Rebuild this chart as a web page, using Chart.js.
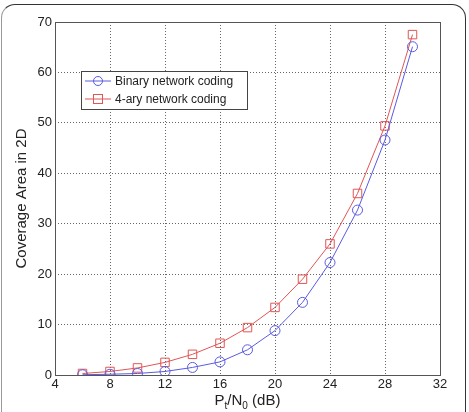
<!DOCTYPE html>
<html>
<head>
<meta charset="utf-8">
<script src="https://cdn.jsdelivr.net/npm/chart.js@4.4.0/dist/chart.umd.min.js"></script>
<style>
  html, body { margin: 0; padding: 0; background: #fff; }
  #wrap { position: relative; width: 469px; height: 412px; overflow: hidden; }
  #frame { position: absolute; left: 1px; top: 4px; width: 463px; height: 460px;
           border: 1.5px solid #333; border-left-color: #999; border-radius: 14px; pointer-events: none; }
  canvas { position: absolute; left: 0; top: 0; }
</style>
</head>
<body>
<div id="wrap">
  <canvas id="chart" width="469" height="412"></canvas>
  <div id="frame"></div>
</div>
<script>
// values
const snr = [6, 8, 10, 12, 14, 16, 18, 20, 22, 24, 26, 28, 30];
const binary = [0.05, 0.15, 0.3, 0.7, 1.5, 2.6, 5.0, 8.8, 14.4, 22.3, 32.7, 46.6, 65.1];
const quaternary = [0.3, 0.7, 1.4, 2.5, 4.1, 6.3, 9.4, 13.4, 19.0, 26.0, 36.0, 49.4, 67.5];
const seriesNames = ['Binary network coding', '4-ary network coding'];
const xTicks = [4, 8, 12, 16, 20, 24, 28, 32];
const yTicks = [0, 10, 20, 30, 40, 50, 60, 70];

const FONT = 'Liberation Sans, Arial, sans-serif';
const blue = 'rgb(90, 90, 225)';
const red = 'rgb(225, 85, 85)';

function pts(ys){
    return snr.map((x, i) => ({x: x, y: ys[i]}));
}

const extras = {
    id: 'extras',
    afterDatasetsDraw(chart){
        const c = chart.ctx;
        const a = chart.chartArea;
        c.save();
        // box around the plot
        c.strokeStyle = '#555';
        c.lineWidth = 1;
        c.strokeRect(a.left + 0.5, a.top + 0.5, a.right - a.left, a.bottom - a.top);

        // legend box inside the plot
        const lx = 81, ly = 71, lw = 166, lh = 38;
        c.fillStyle = '#fff';
        c.fillRect(lx, ly, lw, lh);
        c.strokeStyle = '#444';
        c.strokeRect(lx + 0.5, ly + 0.5, lw, lh);
        c.font = '12px ' + FONT;
        c.textBaseline = 'middle';
        chart.data.datasets.forEach((ds, i) => {
            const yy = ly + 10 + i * 18;
            c.strokeStyle = ds.borderColor;
            c.lineWidth = 1;
            c.beginPath();
            c.moveTo(lx + 4, yy);
            c.lineTo(lx + 30, yy);
            c.stroke();
            if (ds.pointStyle === 'rect') {
                c.strokeRect(lx + 12.5, yy - 4.5, 9, 9);
            } else {
                c.beginPath();
                c.arc(lx + 17, yy, 4.5, 0, Math.PI * 2);
                c.stroke();
            }
            c.fillStyle = '#222';
            c.fillText(ds.label, lx + 34, yy + 0.5);
        });

        // x title with subscripts
        const cx = (a.left + a.right) / 2;
        const by = 405;
        const parts = [['P', 15, 0], ['t', 10, 4], ['/N', 15, 0], ['0', 10, 4], [' (dB)', 15, 0]];
        let total = 0;
        parts.forEach(p => { c.font = p[1] + 'px ' + FONT; total += c.measureText(p[0]).width; });
        let x = cx - total / 2;
        c.fillStyle = '#222';
        c.textBaseline = 'alphabetic';
        c.textAlign = 'left';
        parts.forEach(p => {
            c.font = p[1] + 'px ' + FONT;
            c.fillText(p[0], x, by + p[2]);
            x += c.measureText(p[0]).width;
        });
        c.restore();
    }
};

const ctx = document.getElementById('chart').getContext('2d');
const myChart = new Chart(ctx, {
    type: 'line',
    data: {
        datasets: [{
            label: seriesNames[0],
            data: pts(binary),
            borderColor: blue,
            backgroundColor: 'rgba(0,0,0,0)',
            borderWidth: 1,
            pointStyle: 'circle',
            pointRadius: 5,
            pointBorderWidth: 1,
            tension: 0
        }, {
            label: seriesNames[1],
            data: pts(quaternary),
            borderColor: red,
            backgroundColor: 'rgba(0,0,0,0)',
            borderWidth: 1,
            pointStyle: 'rect',
            pointRadius: 6,
            pointBorderWidth: 1,
            tension: 0
        }]
    },
    options: {
        responsive: false,
        animation: false,
        layout: { padding: { left: 13, top: 22, right: 29, bottom: 0 } },
        plugins: {
            legend: { display: false },
            tooltip: { enabled: false }
        },
        scales: {
            x: {
                type: 'linear',
                min: 4,
                max: 32,
                afterBuildTicks: s => { s.ticks = xTicks.map(v => ({value: v})); },
                afterFit: s => { s.height = 37; },
                grid: { color: '#666', drawTicks: false, lineWidth: 1 },
                border: { display: false, dash: [1, 2] },
                ticks: { color: '#222', font: { family: FONT, size: 13 }, padding: 2, maxRotation: 0 }
            },
            y: {
                min: 0,
                max: 70,
                afterBuildTicks: s => { s.ticks = yTicks.map(v => ({value: v})); },
                afterFit: s => { s.width = 42; },
                grid: { color: '#666', drawTicks: false, lineWidth: 1 },
                border: { display: false, dash: [1, 2] },
                title: { display: true, text: 'Coverage Area in 2D', color: '#222',
                         font: { family: FONT, size: 15 }, padding: { top: 0, bottom: 2 } },
                ticks: { color: '#222', font: { family: FONT, size: 13 }, padding: 3 }
            }
        }
    },
    plugins: [extras]
});
</script>
</body>
</html>
